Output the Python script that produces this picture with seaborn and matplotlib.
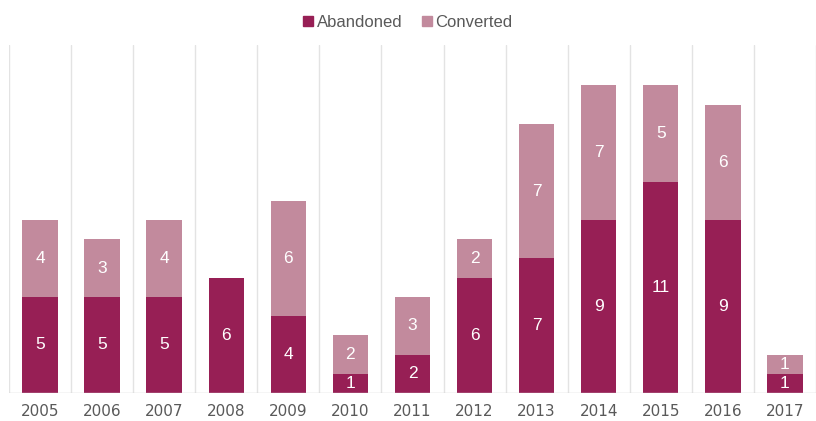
import matplotlib
matplotlib.use("Agg")
import matplotlib.pyplot as plt
import seaborn as sns
import pandas as pd
from matplotlib.patches import Patch

years = ["2005", "2006", "2007", "2008", "2009", "2010", "2011", "2012", "2013", "2014", "2015", "2016", "2017"]
abandoned = [5, 5, 5, 6, 4, 1, 2, 6, 7, 9, 11, 9, 1]
converted = [4, 3, 4, 0, 6, 2, 3, 2, 7, 7, 5, 6, 1]

c_ab = "#971F55"
c_cv = "#C28A9D"

sns.set_style("white")
plt.rcParams["font.family"] = ["Liberation Sans", "DejaVu Sans"]

df = pd.DataFrame({"year": years, "abandoned": abandoned, "converted": converted})
df["total"] = df["abandoned"] + df["converted"]

fig = plt.figure(figsize=(8.16, 4.21), dpi=100)
ax = fig.add_axes([0.011, 0.0665, 0.989, 0.8265])

sns.barplot(data=df, x="year", y="total", color=c_cv, width=0.57, saturation=1, linewidth=0, ax=ax, zorder=3)
sns.barplot(data=df, x="year", y="abandoned", color=c_ab, width=0.57, saturation=1, linewidth=0, ax=ax, zorder=4)

for i, (a, c) in enumerate(zip(abandoned, converted)):
    if a > 0:
        ax.text(i, a / 2, str(a), ha="center", va="center", color="white", fontsize=12.5, zorder=5)
    if c > 0:
        ax.text(i, a + c / 2, str(c), ha="center", va="center", color="white", fontsize=12.5, zorder=5)

n = len(years)
for b in range(n + 1):
    ax.axvline(b - 0.5, color="#E3E3E3", lw=1, zorder=1)
ax.axhline(0, color="#D0D0D0", lw=1, zorder=6)

ax.set_xlim(-0.5, n - 0.5)
ax.set_ylim(0, 18.1)
ax.set_xlabel("")
ax.set_ylabel("")
ax.set_yticks([])
ax.tick_params(axis="x", length=0, pad=8, labelsize=11, labelcolor="#595959")
for lbl in ax.get_xticklabels():
    lbl.set_fontfamily("DejaVu Sans")
for s in ax.spines.values():
    s.set_visible(False)

handles = [Patch(color=c_ab, label="Abandoned"), Patch(color=c_cv, label="Converted")]
fig.legend(handles=handles, loc="upper center", bbox_to_anchor=(0.5, 1.0), ncol=2, frameon=False,
           fontsize=12, handlelength=0.6, handleheight=0.6, handletextpad=0.2, columnspacing=1.2,
           labelcolor="#595959")

fig.savefig("out.png", dpi=100)
